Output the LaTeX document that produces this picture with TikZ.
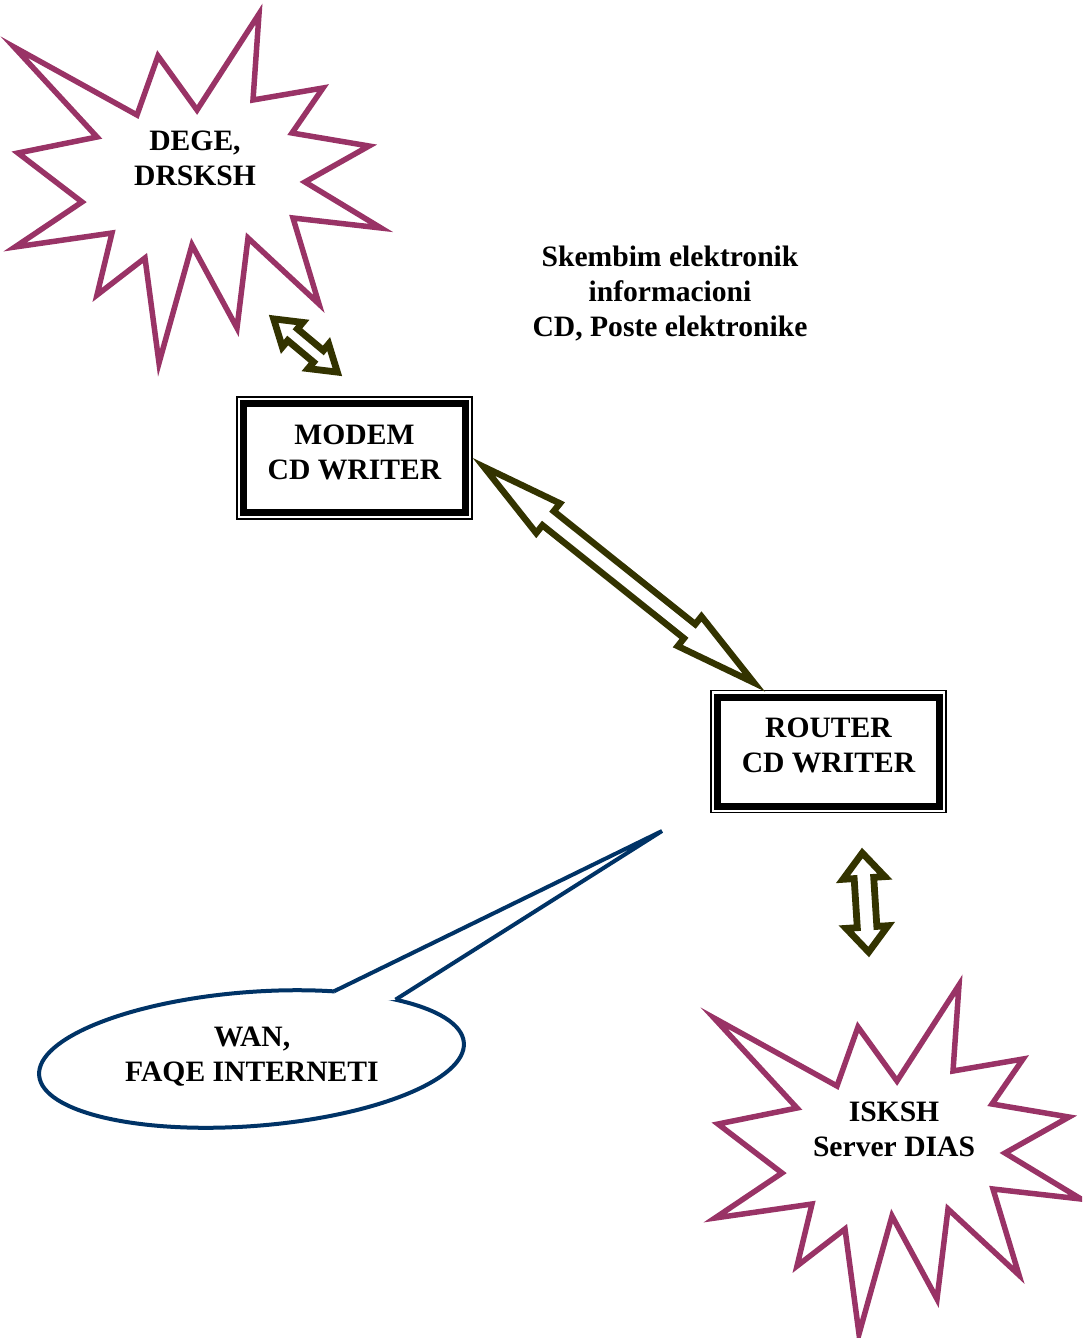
\documentclass[tikz,border=0pt]{standalone}
\usepackage{fontspec}
\setmainfont{Liberation Serif}
\usetikzlibrary{shapes.geometric, shapes.arrows, calc}
\definecolor{burstplum}{HTML}{993366}
\definecolor{linkolive}{HTML}{333300}
\definecolor{wanblue}{HTML}{003366}

% outline of the explosion shape, in pixels of the page
\newcommand{\burstpath}{(14,47) -- (137,115) -- (158,56) -- (197,110) -- (259,14) -- (253,100) -- (323,88) -- (292,133) -- (369,146) -- (305,182) -- (381,228) -- (293,218) -- (319,304) -- (248,238) -- (237,328) -- (192,245) -- (159,363) -- (145,258) -- (97,295) -- (112,233) -- (15,247) -- (82,202) -- (18,153) -- (97,137) -- cycle}

\begin{document}
\begin{tikzpicture}[x=0.5pt, y=-0.5pt,
  burst/.style={draw=burstplum, line width=2.75pt, line join=miter},
  labeltext/.style={font=\fontsize{14.8}{17.5}\selectfont\bfseries, align=center, inner sep=0pt},
  boxframe/.style={labeltext, draw, line width=3.5pt, outer sep=0pt, minimum width=111pt, minimum height=54.5pt, text depth=6pt},
  linkarrow/.style={double arrow, draw=linkolive, fill=white, inner xsep=0pt, minimum width=0pt},
  wanshape/.style={ellipse, draw=wanblue, fill=white, line width=2pt, inner sep=0pt, outer sep=0pt, minimum width=213pt, minimum height=67pt, rotate=4.4}]
  \useasboundingbox (0,0) rectangle (1082,1338);
  \clip (0,0) rectangle (1082,1338);

  % explosions
  \draw[burst] \burstpath;
  \draw[burst, shift={(700,971)}] \burstpath;
  \node[labeltext] (dege) at (195,158.5) {DEGE,\\DRSKSH};
  \node[labeltext] (isksh) at (894,1129.5) {ISKSH\\Server DIAS};

  % note
  \node[labeltext] (info) at (670,294) {Skembim elektronik\\informacioni\\CD, Poste elektronike};

  % devices
  \node[boxframe] (modem) at (354.5,458) {MODEM\\CD WRITER};
  \node[boxframe] (router) at (828.5,751.5) {ROUTER\\CD WRITER};
  \foreach \b in {modem,router}
    \draw[line width=0.6pt] ([shift={(-3.25pt,3.25pt)}]\b.north west) rectangle ([shift={(3.25pt,-3.25pt)}]\b.south east);

  % block arrows
  \coordinate (bigA) at ([xshift=3.6pt]modem.east);
  \coordinate (bigB) at ([shift={(23.75pt,2.75pt)}]router.north west);
  \coordinate (degeA) at (269,315);
  \coordinate (degeB) at (342,376);
  \coordinate (iskshA) at (862,848);
  \coordinate (iskshB) at (869,957);
  \path[line width=3.2pt] let \p1=($(bigB)-(bigA)$), \n1={veclen(\x1,\y1)} in
    (bigA) -- (bigB) node[linkarrow, midway, sloped, inner ysep=2.9pt, double arrow head extend=5pt, double arrow tip angle=26, minimum height=\n1-14.2pt] {};
  \path[line width=3.4pt] let \p1=($(degeB)-(degeA)$), \n1={veclen(\x1,\y1)} in
    (degeA) -- (degeB) node[linkarrow, midway, sloped, inner ysep=2.1pt, double arrow head extend=4.2pt, double arrow tip angle=66, minimum height=\n1-6pt] {};
  \path[line width=3.4pt] let \p1=($(iskshB)-(iskshA)$), \n1={veclen(\x1,\y1)} in
    (iskshA) -- (iskshB) node[linkarrow, midway, sloped, inner ysep=3.2pt, double arrow head extend=5.6pt, double arrow tip angle=80, minimum height=\n1-5pt] {};

  % callout
  \node[wanshape] (wanrim) at (251.5,1059) {};
  \node[labeltext] (wan) at (252,1057) {WAN,\\FAQE INTERNETI};
  \coordinate (wantip) at (662,831);
  \fill[white] (wanrim.35) -- (wantip) -- (wanrim.18) -- ($(wanrim.center)!0.8!(wanrim.26)$) -- cycle;
  \draw[wanblue, line width=2pt] (wanrim.35) -- (wantip) -- (wanrim.18);
\end{tikzpicture}
\end{document}
